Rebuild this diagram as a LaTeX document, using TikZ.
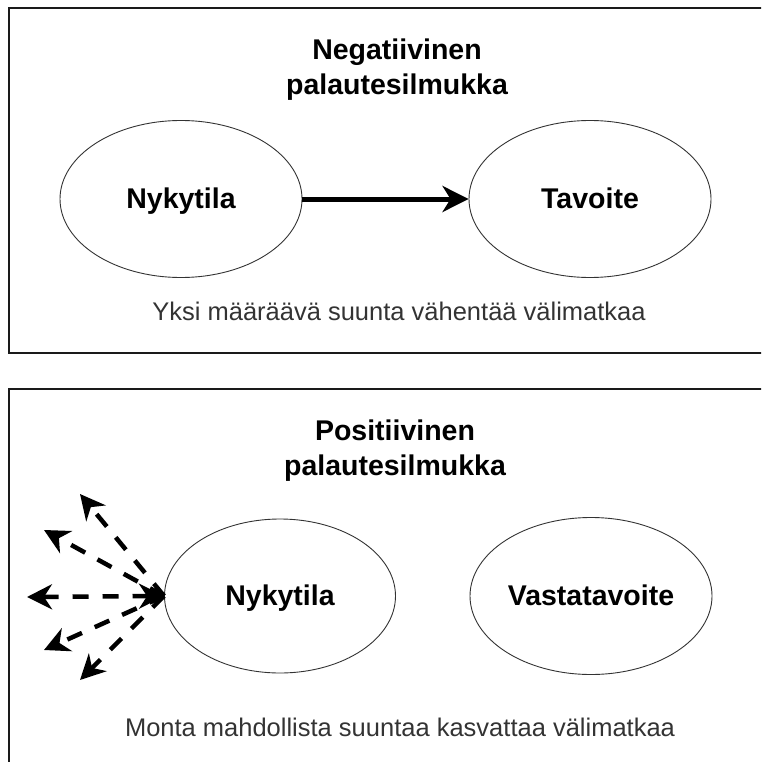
\documentclass[tikz,border=0pt]{standalone}
\usepackage{fontspec}
\setmainfont{Liberation Sans}
\usetikzlibrary{shapes.geometric, arrows.meta, positioning}
\definecolor{framegray}{HTML}{1A1A1A}
\definecolor{notegray}{HTML}{333333}
\tikzset{
  loopframe/.style={draw=framegray, line width=1.4pt},
  statebubble/.style={ellipse, draw=black!80, line width=0.9pt, inner sep=0pt,
    text height=21pt, text depth=3pt,
    minimum width=242pt, minimum height=157pt, font=\fontsize{28.5}{34}\selectfont\bfseries},
  looptitle/.style={align=center, font=\fontsize{28.5}{35}\selectfont\bfseries},
  loopnote/.style={text=notegray, font=\fontsize{25.5}{30}\selectfont},
  pushline/.style={line width=5pt, -{Stealth[length=26pt, width=26pt, inset=8pt]}},
  driftline/.style={line width=4.5pt, dash pattern=on 16pt off 14pt,
    -{Stealth[length=25pt, width=25pt, inset=8pt]}}
}

\begin{document}
\begin{tikzpicture}[x=1pt, y=-1pt]
  \useasboundingbox (0,0) rectangle (761,762);
  \clip (0,0) rectangle (761,762);
  % negative loop
  \draw[loopframe] (9,8) rectangle (780,353);
  \node[looptitle] (negtitle) at (397,70) {Negatiivinen\\palautesilmukka};
  \node[statebubble] (nowtop) at (181,199) {Nykytila};
  \node[statebubble] (goal) at (590,199) {Tavoite};
  \draw[pushline] (nowtop.east) -- (goal.west);
  \node[loopnote] (negnote) at (399,311) {Yksi määräävä suunta vähentää välimatkaa};

  % positive loop
  \draw[loopframe] (9,389) rectangle (780,800);
  \node[looptitle] (postitle) at (395,451) {Positiivinen\\palautesilmukka};
  \node[statebubble, minimum width=231pt, minimum height=154pt] (nowbot) at (280,596) {Nykytila};
  \node[statebubble] (antigoal) at (591,596) {Vastatavoite};
  \coordinate (drifta) at (80,494);
  \coordinate (driftb) at (44,530);
  \coordinate (driftc) at (27,597);
  \coordinate (driftd) at (44,650);
  \coordinate (drifte) at (80,680);
  \foreach \n in {a,b,d,e}
    \draw[driftline] (nowbot.west) -- (drift\n);
  \draw[driftline, {Stealth[length=25pt, width=25pt, inset=8pt]}-{Stealth[length=25pt, width=25pt, inset=8pt]}]
    (nowbot.west) -- (driftc);
  \node[loopnote] (posnote) at (400,727) {Monta mahdollista suuntaa kasvattaa välimatkaa};
\end{tikzpicture}
\end{document}
